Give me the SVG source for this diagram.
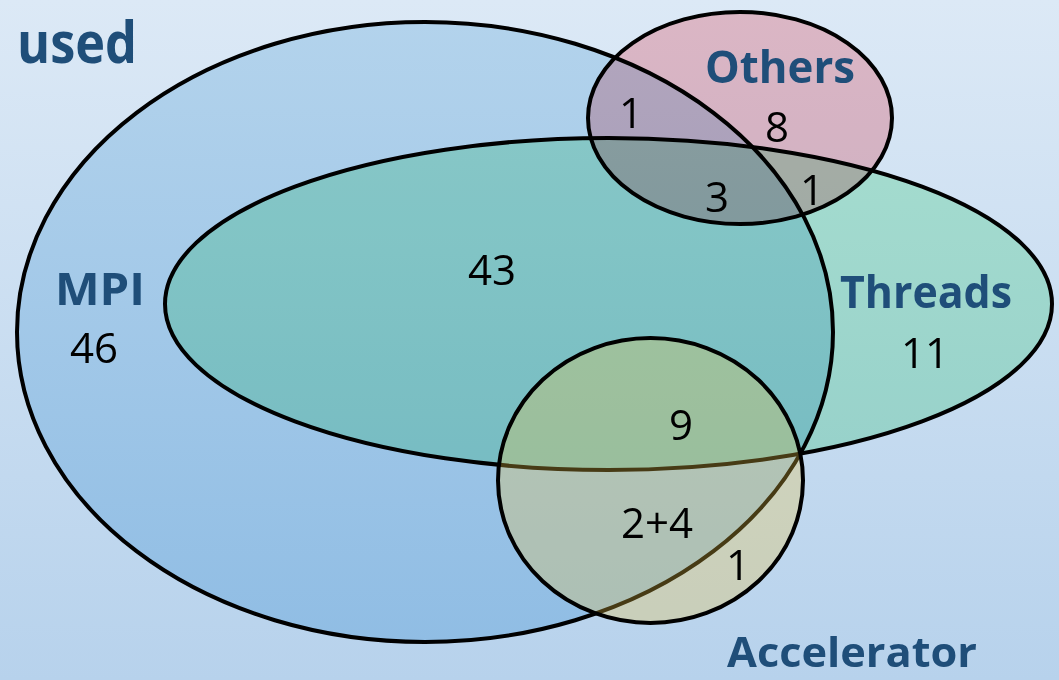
<svg xmlns="http://www.w3.org/2000/svg" width="1059" height="680" viewBox="0 0 1059 680">
  <defs>
    <linearGradient id="bg" x1="0" y1="0" x2="0" y2="680" gradientUnits="userSpaceOnUse">
      <stop offset="0" stop-color="#dce9f6"/>
      <stop offset="1" stop-color="#b7d2ec"/>
    </linearGradient>
    <linearGradient id="mpiFill" x1="0" y1="22" x2="0" y2="642" gradientUnits="userSpaceOnUse">
      <stop offset="0" stop-color="#b3d3ec"/>
      <stop offset="1" stop-color="#90bde4"/>
    </linearGradient>
  </defs>
  <style>
    .set { stroke: #000; stroke-width: 4; }
    .title { font-family: "Open Sans", "Liberation Sans", sans-serif; font-weight: bold; fill: #1f4e79; font-size: 45px; }
    .num { font-family: "Open Sans", "Liberation Sans", sans-serif; fill: #000; font-size: 42px; text-anchor: middle; }
  </style>
  <rect x="0" y="0" width="1059" height="680" fill="url(#bg)"/>
  <text class="title" x="17" y="63" style="font-size:58px" textLength="120" lengthAdjust="spacingAndGlyphs">used</text>

  <g id="mpi">
    <ellipse class="set" cx="425" cy="332" rx="408" ry="310" fill="url(#mpiFill)"/>
    <text class="title" x="55" y="305" textLength="90" lengthAdjust="spacingAndGlyphs">MPI</text>
  </g>
  <g id="threads">
    <ellipse class="set" cx="608.5" cy="304" rx="443.5" ry="166" fill="#c6f6d8" style="mix-blend-mode:multiply"/>
    <text class="title" x="840" y="308" textLength="172" lengthAdjust="spacingAndGlyphs">Threads</text>
  </g>
  <g id="others">
    <ellipse class="set" cx="740" cy="118" rx="152" ry="106" fill="#ffc8cc" style="mix-blend-mode:multiply"/>
    <text class="title" x="705" y="83" textLength="150" lengthAdjust="spacingAndGlyphs">Others</text>
  </g>
  <g id="accelerator">
    <ellipse class="set" cx="650.5" cy="480.5" rx="152.5" ry="142.5" fill="#ebc547" fill-opacity="0.3"/>
    <text class="title" x="727" y="667" style="font-size:41px" textLength="250" lengthAdjust="spacingAndGlyphs">Accelerator</text>
  </g>

  <g id="counts">
    <text class="num" x="94" y="363">46</text>
    <text class="num" x="492" y="285">43</text>
    <text class="num" x="925" y="368">11</text>
    <text class="num" x="631" y="128">1</text>
    <text class="num" x="777" y="142">8</text>
    <text class="num" x="717" y="212">3</text>
    <text class="num" x="812" y="205">1</text>
    <text class="num" x="681" y="440">9</text>
    <text class="num" x="657" y="538">2+4</text>
    <text class="num" x="738" y="580">1</text>
  </g>
</svg>
